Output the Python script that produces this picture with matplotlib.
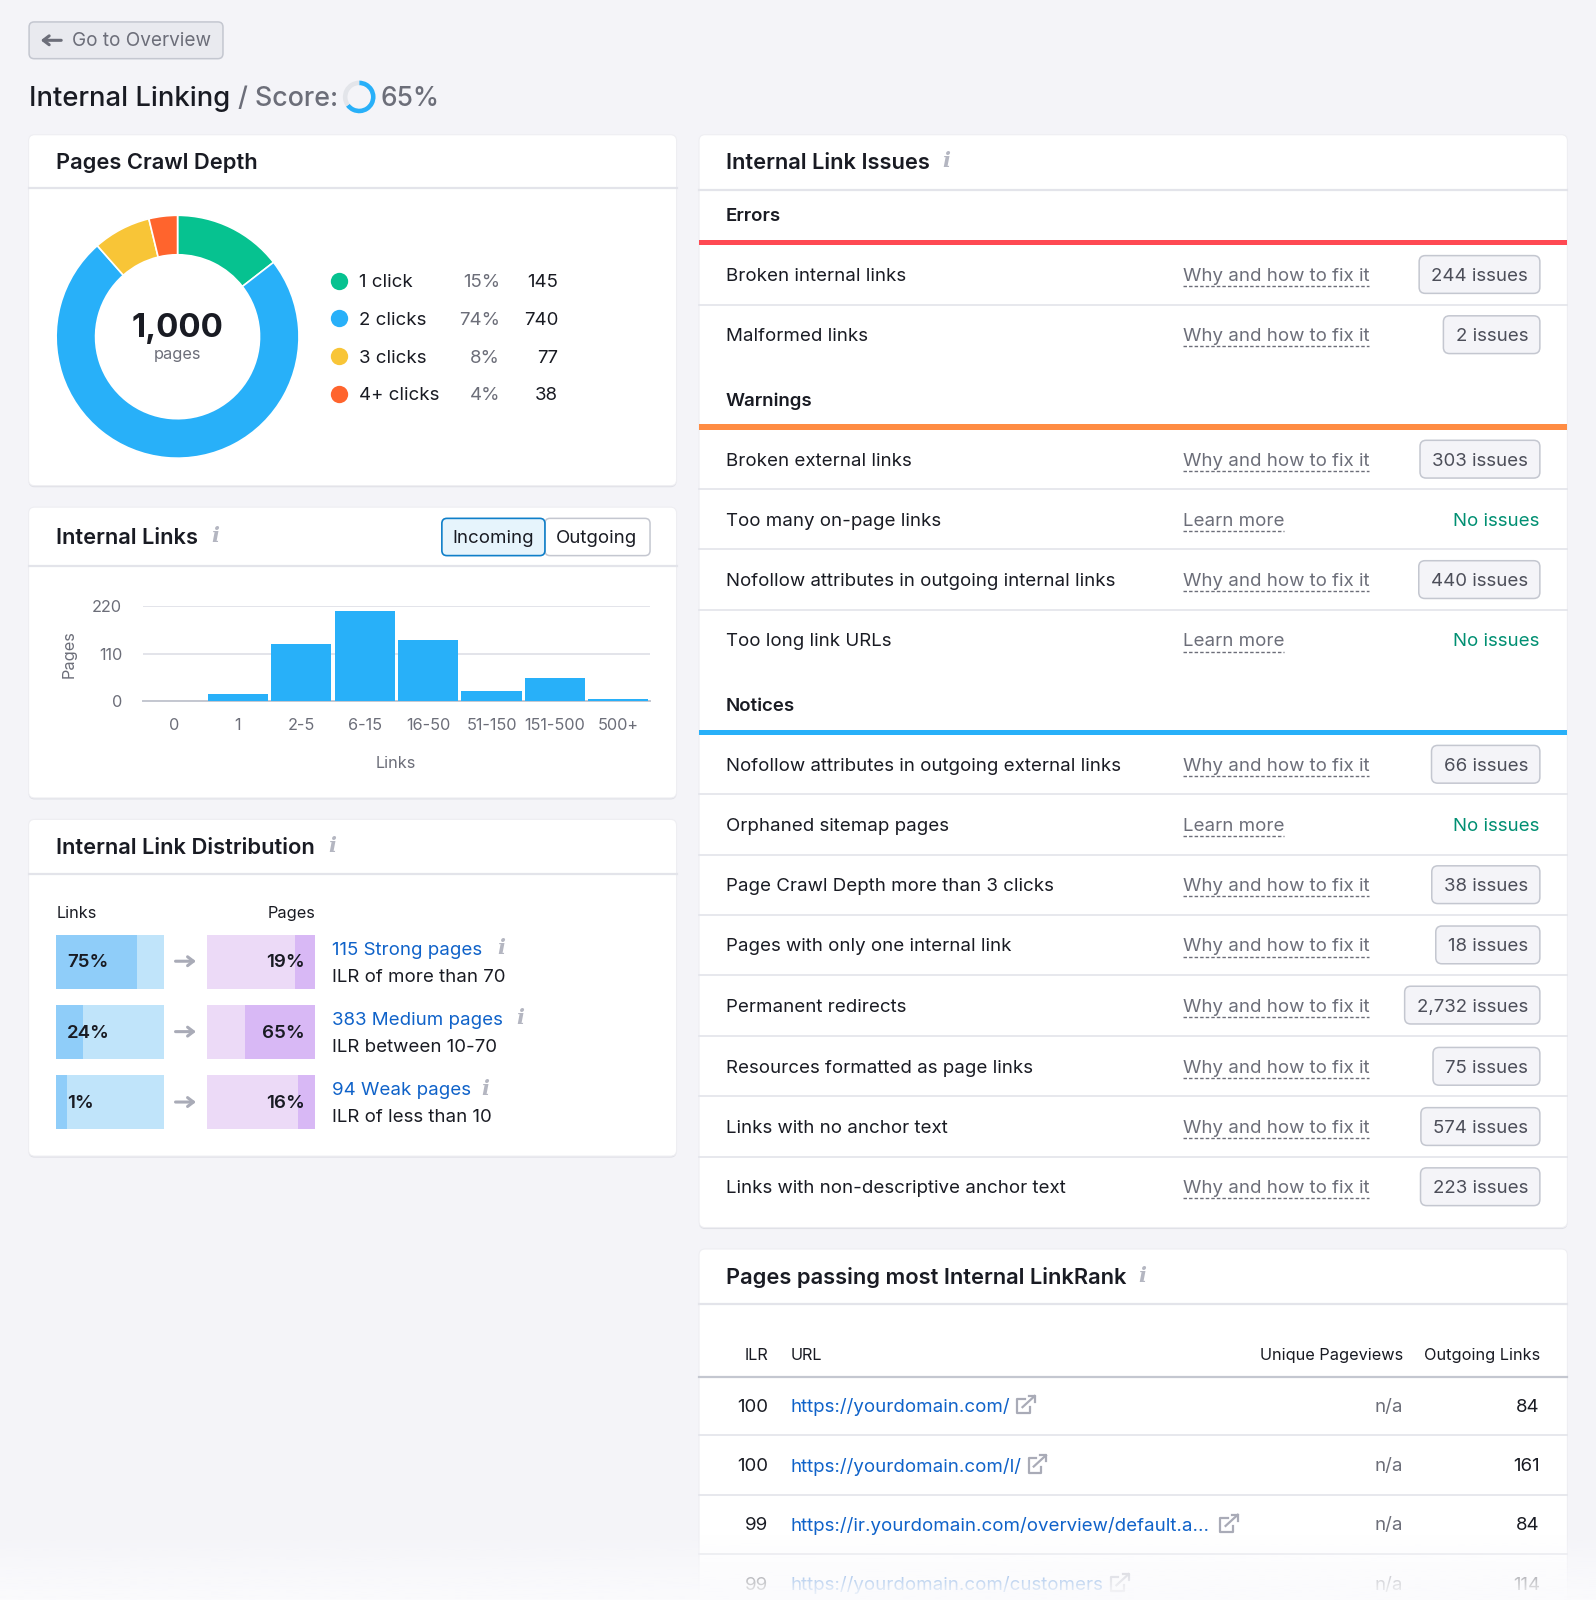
import matplotlib
matplotlib.use("Agg")
import matplotlib.pyplot as plt
from matplotlib.patches import FancyBboxPatch, Rectangle
from matplotlib.colors import to_rgb
import numpy as np

plt.rcParams['font.family'] = ['Inter', 'DejaVu Sans']

# Data
crawl_labels = ['1 click', '2 clicks', '3 clicks', '4+ clicks']
crawl_pct = ['15%', '74%', '8%', '4%']
crawl_counts = [145, 740, 77, 38]
crawl_colors = ['#06c290', '#28b0f9', '#f8c537', '#ff642d']

link_bins = ['0', '1', '2-5', '6-15', '16-50', '51-150', '151-500', '500+']
link_pages = [0, 17, 132, 208, 142, 24, 54, 5]

dist_links = [75, 24, 1]
dist_links_drawn = [75, 25, 10]
dist_pages = [19, 65, 16]
dist_titles = ['115 Strong pages', '383 Medium pages', '94 Weak pages']
dist_notes = ['ILR of more than 70', 'ILR between 10-70', 'ILR of less than 10']

error_rows = [('Broken internal links', '244 issues'), ('Malformed links', '2 issues')]
warning_rows = [('Broken external links', '303 issues'), ('Too many on-page links', None),
                ('Nofollow attributes in outgoing internal links', '440 issues'), ('Too long link URLs', None)]
notice_rows = [('Nofollow attributes in outgoing external links', '66 issues'),
               ('Orphaned sitemap pages', None),
               ('Page Crawl Depth more than 3 clicks', '38 issues'),
               ('Pages with only one internal link', '18 issues'),
               ('Permanent redirects', '2,732 issues'),
               ('Resources formatted as page links', '75 issues'),
               ('Links with no anchor text', '574 issues'),
               ('Links with non-descriptive anchor text', '223 issues')]

table_ilr = [100, 100, 99, 99]
table_urls = ['https://yourdomain.com/', 'https://yourdomain.com/l/',
              'https://ir.yourdomain.com/overview/default.a...', 'https://yourdomain.com/customers']
table_views = ['n/a', 'n/a', 'n/a', 'n/a']
table_links = [84, 161, 84, 114]

BG = '#f4f4f8'
INK = '#191b23'
GREY = '#6c6e79'
LINK = '#0f62c9'
LINE = '#e3e4ea'
W, H = 1564.0, 1568.0  # layout units
BODY = 18.7
SMALL = 16.3
HEAD = 21.9

fig = plt.figure(figsize=(15.96, 16), dpi=100, facecolor=BG)
ax = fig.add_axes([0, 0, 1, 1])
ax.set_xlim(0, W)
ax.set_ylim(H, 0)
ax.axis('off')


def fs(px):
    return px * 0.72


def txt(x, y, s, size=BODY, color=INK, ha='left', weight='normal', **kw):
    # va=center sits a bit high for this font
    return ax.text(x, y + 2, s, fontsize=fs(size), color=color, ha=ha, va='center', weight=weight, **kw)


def inset(x0, y0, x1, y1, **kw):
    return fig.add_axes([x0 / W, 1 - y1 / H, (x1 - x0) / W, (y1 - y0) / H], **kw)


def card(x0, y0, x1, y1, header_y):
    ax.add_patch(FancyBboxPatch((x0, y0 + 1.5), x1 - x0, y1 - y0, boxstyle='round,pad=0,rounding_size=6',
                                fc='#dfe0e6', ec='none', zorder=1))
    ax.add_patch(FancyBboxPatch((x0, y0), x1 - x0, y1 - y0, boxstyle='round,pad=0,rounding_size=6',
                                fc='white', ec='#eeeef2', lw=0.8, zorder=1.1))
    ax.plot([x0, x1], [header_y, header_y], color=LINE, lw=1.6, zorder=2)


def info(x, y):
    ax.text(x, y, 'i', fontsize=fs(21), family='DejaVu Serif', style='italic', weight='bold',
            color='#b4b6c1', ha='center', va='center')


def ext_icon(x, y):
    c = '#a9abb7'
    ax.plot([x + 7, x, x, x + 12, x + 12], [y - 6, y - 6, y + 8, y + 8, y + 2], color=c, lw=1.6)
    ax.plot([x + 5, x + 17], [y + 2, y - 9], color=c, lw=1.6)
    ax.plot([x + 11, x + 17, x + 17], [y - 9, y - 9, y - 3], color=c, lw=1.6)


def arrow(x0, x1, y, color='#a9abb7', lw=2.2):
    ax.annotate('', xy=(x1, y), xytext=(x0, y),
                arrowprops=dict(arrowstyle='->,head_width=0.32,head_length=0.42', color=color, lw=lw,
                                shrinkA=0, shrinkB=0))


# Header
ax.add_patch(FancyBboxPatch((28.5, 21.5), 190, 36, boxstyle='round,pad=0,rounding_size=5',
                            fc='#e9eaef', ec='#c4c7d0', lw=1.1))
arrow(60, 40, 39.5, color='#6c6e79')
txt(71, 38.5, 'Go to Overview', size=19, color=GREY)
txt(28, 95, 'Internal Linking', size=27.4, weight='medium')
txt(233, 95, '/ Score:', size=26.8, color=GREY, weight='medium')
txt(373, 95, '65%', size=26.3, color=GREY, weight='medium')
ring = inset(336, 79, 368, 111)
ring.pie([65, 35], colors=['#28b0f9', '#e3e5ea'], startangle=90, counterclock=False, radius=1,
         wedgeprops=dict(width=0.28))
ring.set_xlim(-1, 1)
ring.set_ylim(-1, 1)

# Pages Crawl Depth
card(28, 132, 663, 476, 184)
txt(55, 158, 'Pages Crawl Depth', size=HEAD, weight='semibold')
dn = inset(55, 211, 293, 449)
dn.pie(crawl_counts, colors=crawl_colors, startangle=90, counterclock=False, radius=1,
       wedgeprops=dict(width=0.325, edgecolor='white', linewidth=1.2))
dn.set_xlim(-1, 1)
dn.set_ylim(-1, 1)
dn.text(0, 0.065, f'{sum(crawl_counts):,}', fontsize=fs(33), weight='bold', color=INK, ha='center', va='center')
dn.text(0, -0.15, 'pages', fontsize=fs(SMALL), color=GREY, ha='center', va='center')

for i, lab in enumerate(crawl_labels):
    y = 275 + i * 37
    ax.scatter([332.5], [y], s=156, color=crawl_colors[i], linewidths=0, zorder=3)
    txt(352, y, lab)
    txt(490, y, crawl_pct[i], color=GREY, ha='right')
    txt(547, y, str(crawl_counts[i]), ha='right')

# Internal Links
card(28, 497, 663, 782, 555)
txt(55, 525, 'Internal Links', size=HEAD, weight='semibold')
info(211, 525)
ax.add_patch(FancyBboxPatch((534, 508), 103, 36.5, boxstyle='round,pad=0,rounding_size=5',
                            fc='white', ec='#c4c7d0', lw=1.1, zorder=2))
ax.add_patch(FancyBboxPatch((433, 508), 101, 36.5, boxstyle='round,pad=0,rounding_size=5',
                            fc='#e6f4fc', ec='#0f7fc9', lw=1.2, zorder=3))
txt(483, 526, 'Incoming', ha='center', zorder=4)
txt(585, 526, 'Outgoing', ha='center', zorder=4)

bars = inset(140, 594, 637, 687)
bars.bar(range(len(link_bins)), link_pages, width=0.95, color='#28b0f9', zorder=3)
bars.set_xlim(-0.5, len(link_bins) - 0.5)
bars.set_ylim(0, 220)
bars.set_yticks([0, 110, 220])
bars.set_xticks(range(len(link_bins)))
bars.set_xticklabels(link_bins)
bars.tick_params(axis='both', length=0, labelsize=fs(SMALL), labelcolor=GREY)
bars.tick_params(axis='x', pad=12.5)
bars.tick_params(axis='y', pad=15)
bars.grid(axis='y', color=LINE, lw=1.4, zorder=0)
bars.set_axisbelow(True)
bars.patch.set_alpha(0)
for s in bars.spines.values():
    s.set_visible(False)
bars.spines['bottom'].set_visible(True)
bars.spines['bottom'].set_color('#c4c7d0')
bars.spines['bottom'].set_linewidth(1.4)
ax.text(68, 641, 'Pages', fontsize=fs(SMALL), color=GREY, ha='center', va='center', rotation=90)
txt(388, 746, 'Links', size=SMALL, color=GREY, ha='center')

# Internal Link Distribution
card(28, 803, 663, 1133, 857)
txt(55, 829, 'Internal Link Distribution', size=HEAD, weight='semibold')
info(326, 829)
txt(55, 893, 'Links', size=SMALL)
txt(309, 893, 'Pages', size=SMALL, ha='right')

rows = np.arange(3)
left = inset(55, 908, 161, 1114)
left.barh(rows, [100] * 3, height=0.77, color='#c0e4fa')
left.barh(rows, dist_links_drawn, height=0.77, color='#8fcdf9')
right = inset(203, 908, 309, 1114)
right.barh(rows, [100] * 3, height=0.77, color='#ecdaf7')
right.barh(rows, dist_pages, left=[100 - v for v in dist_pages], height=0.77, color='#d8b8f5')
for a in (left, right):
    a.set_xlim(0, 100)
    a.set_ylim(2.5, -0.5)
    a.axis('off')
for i in rows:
    left.text(10, i + 0.02, f'{dist_links[i]}%', fontsize=fs(18.7), weight='semibold', color=INK, va='center')
    right.text(90, i + 0.02, f'{dist_pages[i]}%', fontsize=fs(18.7), weight='semibold', color=INK,
               va='center', ha='right')
    y = 942 + i * 69
    arrow(172, 192, y)
    txt(325, y - 13, dist_titles[i], color=LINK)
    txt(325, y + 13.5, dist_notes[i])
    info([491, 510, 476][i], y - 13)

# Internal Link Issues
card(685, 132, 1536, 1203, 186)
txt(711, 158, 'Internal Link Issues', size=HEAD, weight='semibold')
info(927, 158)


def section(title, y_title, y_bar, color, rows_, ys):
    txt(711, y_title - 1, title, weight='semibold')
    ax.add_patch(Rectangle((685, y_bar - 2.5), 851, 5, fc=color, ec='none', zorder=3))
    rend = fig.canvas.get_renderer()
    for j, (name, issue) in enumerate(rows_):
        y = ys[j]
        txt(711, y, name)
        tip = 'Why and how to fix it' if issue else 'Learn more'
        tt = txt(1159, y, tip, color=GREY)
        bb = tt.get_window_extent(rend).transformed(ax.transData.inverted())
        ax.plot([1159, bb.x1], [y + 11.5, y + 11.5], color=GREY, lw=1, ls=(0, (2.5, 1.5)))
        if issue:
            it = txt(1497.5, y, issue, color='#4c4e59', ha='right', zorder=4)
            b2 = it.get_window_extent(rend).transformed(ax.transData.inverted())
            ax.add_patch(FancyBboxPatch((b2.x0 - 12, y - 18.5), 1509 - b2.x0 + 12, 37,
                                        boxstyle='round,pad=0,rounding_size=6',
                                        fc='#f4f4f8', ec='#c4c7d0', lw=1.1, zorder=3))
        else:
            txt(1509, y, 'No issues', color='#008f72', ha='right')
        if j < len(rows_) - 1:
            sy = (ys[j] + ys[j + 1]) / 2
            ax.plot([685, 1536], [sy, sy], color=LINE, lw=1.2, zorder=2)


section('Errors', 211, 237.5, '#ff4953', error_rows, [269, 328])
section('Warnings', 392, 418.5, '#ff8c43', warning_rows, [450, 509, 568, 627])
section('Notices', 691, 717.5, '#28b0f9', notice_rows, [749, 808, 867, 926, 985, 1045, 1104, 1163])

# Pages passing most Internal LinkRank
card(685, 1224, 1536, 1640, 1278)
txt(711, 1250, 'Pages passing most Internal LinkRank', size=HEAD, weight='semibold')
info(1119, 1250)
txt(753, 1326, 'ILR', size=SMALL, ha='right')
txt(775, 1326, 'URL', size=SMALL)
txt(1375, 1326, 'Unique Pageviews', size=SMALL, ha='right')
txt(1509, 1326, 'Outgoing Links', size=SMALL, ha='right')
ax.plot([685, 1536], [1349, 1349], color='#c4c7d0', lw=1.6, zorder=2)
icon_x = [997, 1008, 1196, 1089]
for i, url in enumerate(table_urls):
    y = 1377 + i * 58.2
    txt(753, y, str(table_ilr[i]), ha='right')
    txt(775, y, url, color=LINK)
    ext_icon(icon_x[i], y)
    txt(1375, y, table_views[i], color=GREY, ha='right')
    txt(1509, y, str(table_links[i]), ha='right')
    if i < 3:
        ax.plot([685, 1536], [y + 29.5, y + 29.5], color=LINE, lw=1.2, zorder=2)

# fade at the bottom of the screenshot
fade = np.ones((64, 1, 4))
fade[:, :, :3] = to_rgb('#fbfbfd')
fade[:, 0, 3] = np.linspace(0, 1, 64) ** 0.8
ax.imshow(fade, extent=(0, W, H, 1504), aspect='auto', zorder=10, origin='upper')
ax.set_xlim(0, W)
ax.set_ylim(H, 0)

fig.savefig('out.png', dpi=100, facecolor=BG)
